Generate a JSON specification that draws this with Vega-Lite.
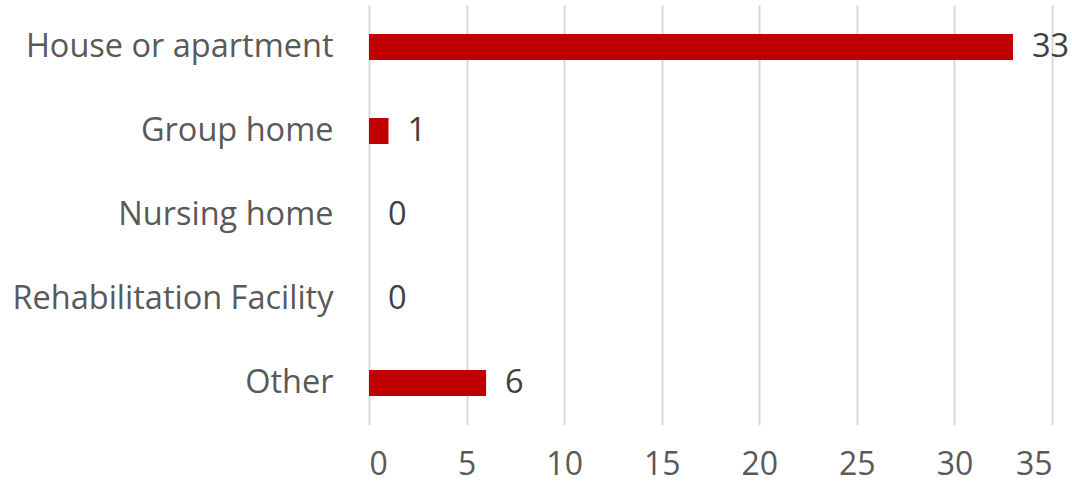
{
  "$schema": "https://vega.github.io/schema/vega-lite/v6.json",
  "width": 683,
  "height": 420,
  "autosize": {"type": "none"},
  "padding": {"left": 369, "top": 5, "right": 20, "bottom": 61},
  "background": "white",
  "config": {"view": {"stroke": null}, "font": "Open Sans"},
  "data": {"values": [
    {"category": "House or apartment", "count": 33},
    {"category": "Group home", "count": 1},
    {"category": "Nursing home", "count": 0},
    {"category": "Rehabilitation Facility", "count": 0},
    {"category": "Other", "count": 6}
  ]},
  "encoding": {
    "y": {"field": "category", "type": "nominal", "sort": null, "title": null,
      "scale": {"paddingInner": 0.69, "paddingOuter": 0.345},
      "axis": {"domain": false, "ticks": false, "grid": false, "labelFont": "Open Sans", "labelFontSize": 32.5, "labelColor": "#595959", "labelPadding": 36, "labelLimit": 400}},
    "x": {"field": "count", "type": "quantitative", "title": null,
      "scale": {"domain": [0, 35], "nice": false},
      "axis": {"values": [0, 5, 10, 15, 20, 25, 30, 35], "domain": false, "ticks": false, "grid": true, "gridColor": "#D9D9D9", "gridWidth": 2, "labelFont": "Open Sans", "labelFontSize": 32, "labelColor": "#595959", "labelPadding": 24}}
  },
  "layer": [
    {"mark": {"type": "bar", "color": "#C00000", "height": 26}},
    {"mark": {"type": "text", "align": "left", "baseline": "middle", "dx": 19, "fontSize": 32.5, "color": "#404040", "font": "Open Sans"},
     "encoding": {"text": {"field": "count", "type": "quantitative"}}}
  ]
}
